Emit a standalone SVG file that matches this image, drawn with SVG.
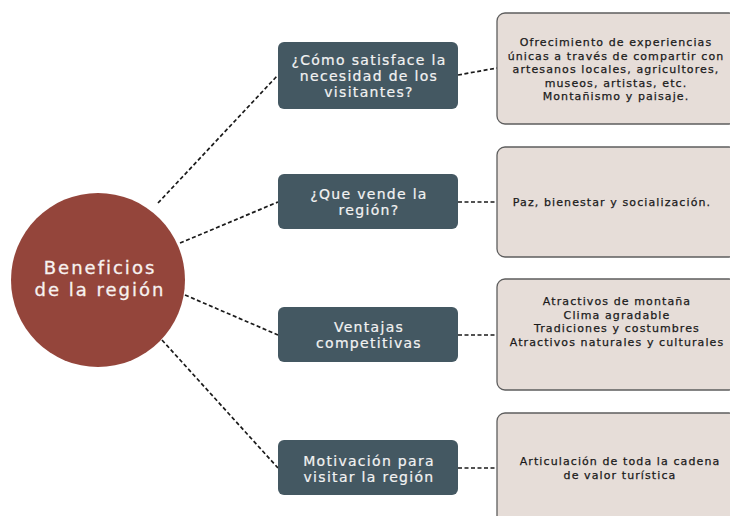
<svg xmlns="http://www.w3.org/2000/svg" width="730" height="516" viewBox="0 0 730 516">
<style>
.bg{fill:#ffffff}
.con{fill:none;stroke:#1a1a1a;stroke-width:1.7;stroke-dasharray:4 2.5}
.q{fill:#445862}
.qt{font-family:"DejaVu Sans",sans-serif;font-size:14px;letter-spacing:1.3px;fill:#f2f2f2;stroke:#f2f2f2;stroke-width:0.2;text-anchor:middle}
.a{fill:#e6ddd8;stroke:#5e5e5e;stroke-width:1.3}
.at{font-family:"DejaVu Sans",sans-serif;font-size:11px;letter-spacing:1.1px;fill:#1a1a1a;stroke:#1a1a1a;stroke-width:0.25;text-anchor:middle}
.ct{font-family:"DejaVu Sans",sans-serif;font-size:18px;letter-spacing:2px;fill:#f7f2f0;stroke:#f7f2f0;stroke-width:0.3;text-anchor:middle}
</style>
<rect class="bg" x="0" y="0" width="730" height="516"/>
<g id="connectors">
<line class="con" x1="158" y1="203" x2="278" y2="75"/>
<line class="con" x1="180" y1="243" x2="278" y2="202"/>
<line class="con" x1="185" y1="295" x2="278" y2="335"/>
<line class="con" x1="162" y1="340" x2="278" y2="468"/>
<line class="con" x1="458" y1="75" x2="497" y2="68"/>
<line class="con" x1="458" y1="202" x2="497" y2="202"/>
<line class="con" x1="458" y1="335" x2="497" y2="335"/>
<line class="con" x1="458" y1="468" x2="497" y2="468"/>
</g>
<g id="center">
<circle cx="98" cy="280" r="87" fill="#94453b"/>
<text class="ct" x="100" y="274">Beneficios</text>
<text class="ct" x="100" y="296">de la región</text>
</g>
<g id="q1">
<rect class="q" x="278" y="42" width="180" height="67" rx="6"/>
<text class="qt" x="369" y="65">¿Cómo satisface la</text>
<text class="qt" x="369" y="81">necesidad de los</text>
<text class="qt" x="369" y="97">visitantes?</text>
</g>
<g id="q2">
<rect class="q" x="278" y="174" width="180" height="55" rx="6"/>
<text class="qt" x="369" y="199">¿Que vende la</text>
<text class="qt" x="369" y="215">región?</text>
</g>
<g id="q3">
<rect class="q" x="278" y="307" width="180" height="55" rx="6"/>
<text class="qt" x="369" y="332">Ventajas</text>
<text class="qt" x="369" y="348">competitivas</text>
</g>
<g id="q4">
<rect class="q" x="278" y="440" width="180" height="55" rx="6"/>
<text class="qt" x="369" y="466">Motivación para</text>
<text class="qt" x="369" y="482">visitar la región</text>
</g>
<g id="a1">
<rect class="a" x="497" y="13" width="240" height="111" rx="8"/>
<text class="at" x="616" y="46">Ofrecimiento de experiencias</text>
<text class="at" x="616" y="59.5">únicas a través de compartir con</text>
<text class="at" x="616" y="73">artesanos locales, agricultores,</text>
<text class="at" x="616" y="86.5">museos, artistas, etc.</text>
<text class="at" x="616" y="100">Montañismo y paisaje.</text>
</g>
<g id="a2">
<rect class="a" x="497" y="147" width="240" height="110" rx="8"/>
<text class="at" x="612" y="206" letter-spacing="0.7">Paz, bienestar y socialización.</text>
</g>
<g id="a3">
<rect class="a" x="497" y="279" width="240" height="111" rx="8"/>
<text class="at" x="617" y="305">Atractivos de montaña</text>
<text class="at" x="617" y="318.5">Clima agradable</text>
<text class="at" x="617" y="332">Tradiciones y costumbres</text>
<text class="at" x="617" y="345.5">Atractivos naturales y culturales</text>
</g>
<g id="a4">
<rect class="a" x="497" y="413" width="240" height="111" rx="8"/>
<text class="at" x="620" y="465">Articulación de toda la cadena</text>
<text class="at" x="620" y="478.5">de valor turística</text>
</g>
</svg>
